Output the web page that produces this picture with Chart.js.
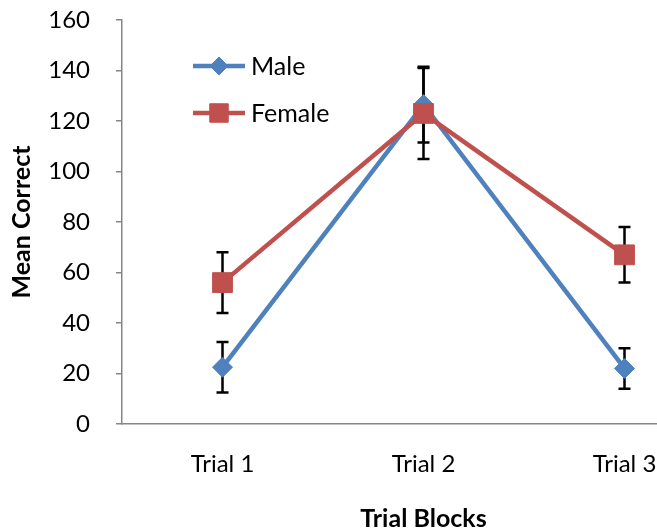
<!DOCTYPE html>
<html>
<head>
<meta charset="utf-8">
<script src="https://cdn.jsdelivr.net/npm/chart.js@4.4.0/dist/chart.umd.min.js"></script>
<style>
  html, body { margin: 0; padding: 0; background: #fff; overflow: hidden; }
  #wrap { width: 740px; height: 545px; }
</style>
</head>
<body>
<div id="wrap"><canvas id="myChart" width="740" height="545"></canvas></div>
<script>
'use strict';

let trialLabels = ['Trial 1', 'Trial 2', 'Trial 3'];
let maleMeans = [22.5, 126.5, 22];
let maleErrors = [10, 15, 8];
let femaleMeans = [56, 123, 67];
let femaleErrors = [12, 18, 11];
let yTicks = [0, 20, 40, 60, 80, 100, 120, 140, 160];

let blue = '#4F81BD';
let red = '#C0504D';
let axisGray = '#868686';

// error bars, drawn under the markers
let errorBarPlugin = {
  id: 'errorBars',
  beforeDatasetsDraw(chart) {
    let ctx = chart.ctx;
    let yScale = chart.scales.y;
    let errs = [maleErrors, femaleErrors];
    ctx.save();
    ctx.strokeStyle = '#000';
    ctx.lineWidth = 2.5;
    chart.data.datasets.forEach(function (ds, d) {
      let meta = chart.getDatasetMeta(d);
      meta.data.forEach(function (pt, i) {
        let v = ds.data[i];
        let top = yScale.getPixelForValue(v + errs[d][i]);
        let bot = yScale.getPixelForValue(v - errs[d][i]);
        ctx.beginPath();
        ctx.moveTo(pt.x, top);
        ctx.lineTo(pt.x, bot);
        ctx.moveTo(pt.x - 6, top);
        ctx.lineTo(pt.x + 6, top);
        ctx.moveTo(pt.x - 6, bot);
        ctx.lineTo(pt.x + 6, bot);
        ctx.stroke();
      });
    });
    ctx.restore();
  }
};

// legend sits inside the plot, top left
let insideLegend = {
  id: 'insideLegend',
  afterDraw(chart) {
    let ctx = chart.ctx;
    let rows = [
      { label: 'Male', color: blue, style: 'rectRot', r: 9, y: 66 },
      { label: 'Female', color: red, style: 'rect', r: 13, y: 113 }
    ];
    ctx.save();
    rows.forEach(function (row) {
      ctx.strokeStyle = row.color;
      ctx.lineWidth = 4.5;
      ctx.beginPath();
      ctx.moveTo(193, row.y);
      ctx.lineTo(245, row.y);
      ctx.stroke();
      ctx.fillStyle = row.color;
      ctx.lineWidth = 1;
      Chart.helpers.drawPoint(ctx, { pointStyle: row.style, radius: row.r, borderWidth: 1, rotation: 0 }, 219, row.y);
      ctx.fill();
      ctx.fillStyle = '#000';
      ctx.font = '25px Lato';
      ctx.textBaseline = 'middle';
      ctx.fillText(row.label, 251, row.y + 1);
    });
    ctx.restore();
  }
};

let ctx = document.getElementById('myChart').getContext('2d');
let myChart = new Chart(ctx, {
  type: 'line',
  data: {
    labels: trialLabels,
    datasets: [
      {
        label: 'Male',
        data: maleMeans,
        borderColor: blue,
        backgroundColor: blue,
        borderWidth: 4.5,
        pointStyle: 'rectRot',
        pointRadius: 10,
        pointBorderWidth: 1,
        tension: 0,
        order: 2
      },
      {
        label: 'Female',
        data: femaleMeans,
        borderColor: red,
        backgroundColor: red,
        borderWidth: 4.5,
        pointStyle: 'rect',
        pointRadius: 14,
        pointBorderWidth: 1,
        tension: 0,
        order: 1
      }
    ]
  },
  options: {
    responsive: false,
    animation: false,
    layout: { padding: { top: 20, right: 12, left: 0, bottom: 0 } },
    plugins: {
      legend: { display: false },
      tooltip: { enabled: false }
    },
    scales: {
      x: {
        offset: true,
        grid: { display: false, drawTicks: false },
        border: { display: true, color: axisGray, width: 1.5 },
        ticks: { color: '#000', font: { family: 'Lato', size: 24 }, padding: 26 },
        title: {
          display: true,
          text: 'Trial Blocks',
          color: '#000',
          font: { family: 'Lato', size: 25, weight: 'bold' },
          padding: { top: 0, bottom: 11 }
        },
        afterFit(scale) { scale.height = 121; scale.paddingLeft = 0; scale.paddingRight = 0; }
      },
      y: {
        min: 0,
        max: 160,
        afterBuildTicks(scale) { scale.ticks = yTicks.map(v => ({ value: v })); },
        grid: { drawOnChartArea: false, drawTicks: true, tickLength: 6, color: axisGray, lineWidth: 1.5 },
        border: { display: true, color: axisGray, width: 1.5 },
        ticks: { color: '#000', font: { family: 'Lato', size: 24 }, padding: 26 },
        title: {
          display: true,
          text: 'Mean Correct',
          color: '#000',
          font: { family: 'Lato', size: 25, weight: 'bold' },
          padding: { top: 7, bottom: 0 }
        },
        afterFit(scale) { scale.width = 122; scale.paddingTop = 0; scale.paddingBottom = 0; }
      }
    }
  },
  plugins: [errorBarPlugin, insideLegend]
});
</script>
</body>
</html>
